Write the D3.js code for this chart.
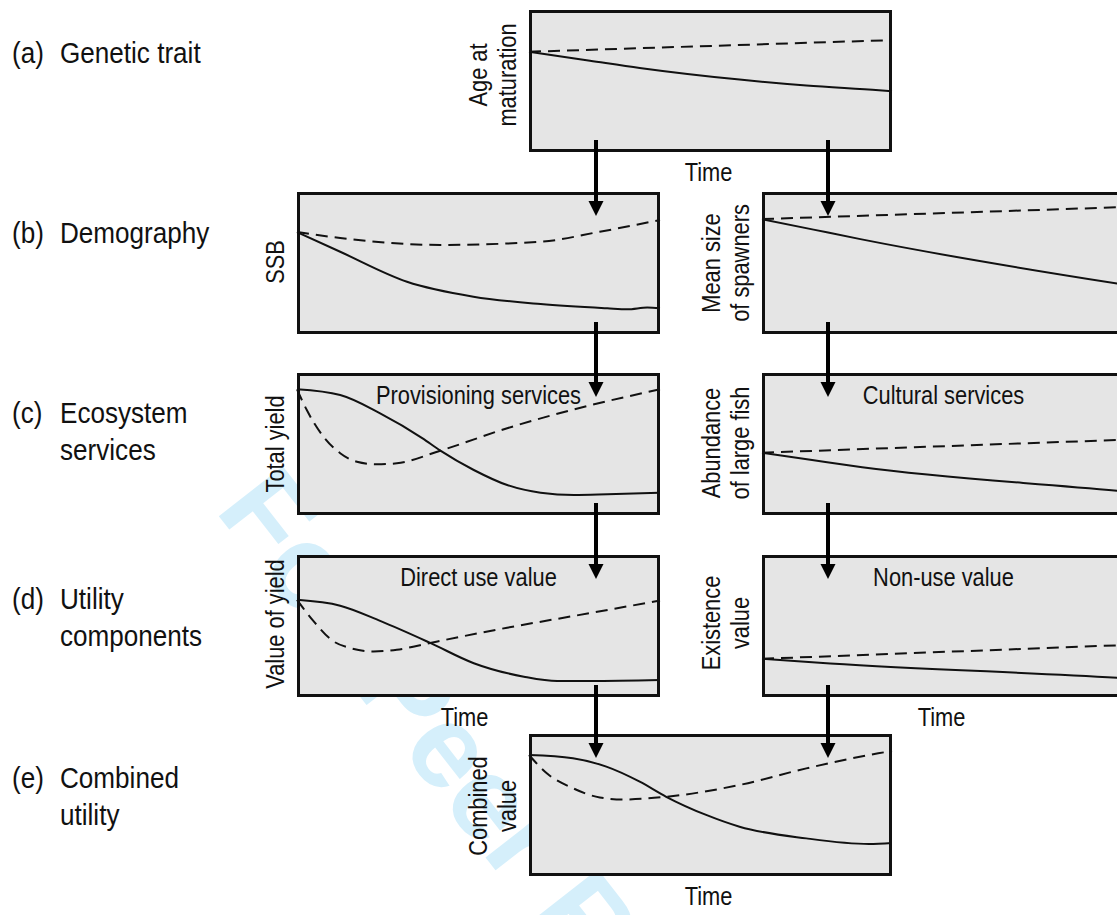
<!DOCTYPE html>
<html>
<head>
<meta charset="utf-8">
<script src="https://cdn.jsdelivr.net/npm/d3@7"></script>
<style>
    body { margin: 0; background: #fff; }
    svg { display: block; }
</style>
</head>
<body>
<svg id="fig" width="1117" height="915"></svg>
<script>
// row labels down the left side
const rowTags = ["(a)", "(b)", "(c)", "(d)", "(e)"];
const rowNames = [
    ["Genetic trait"],
    ["Demography"],
    ["Ecosystem", "services"],
    ["Utility", "components"],
    ["Combined", "utility"]
];

// curves: [time, value], both 0..1 of the panel box
const traitSolid  = [[0,0.706],[0.168,0.643],[0.305,0.592],[0.58,0.51],[0.764,0.468],[0.964,0.435],[1,0.428]];
const traitDashed = [[0,0.706],[1,0.788]];

const ssbSolid  = [[0,0.718],[0.119,0.579],[0.303,0.368],[0.486,0.263],[0.671,0.211],[0.855,0.181],[0.91,0.174],[0.965,0.186],[1,0.181]];
const ssbDashed = [[0,0.718],[0.119,0.676],[0.395,0.627],[0.671,0.65],[0.834,0.72],[1,0.803]];

const sizeSolid  = [[0,0.809],[0.142,0.735],[0.271,0.668],[0.98,0.355],[1,0.347]];
const sizeDashed = [[0,0.809],[1,0.894]];

const yieldSolid  = [[0,0.885],[0.119,0.845],[0.229,0.716],[0.346,0.54],[0.395,0.453],[0.487,0.317],[0.579,0.211],[0.671,0.157],[0.763,0.141],[0.855,0.146],[1,0.157]];
const yieldDashed = [[0,0.885],[0.027,0.739],[0.073,0.551],[0.119,0.435],[0.165,0.375],[0.22,0.357],[0.275,0.364],[0.395,0.453],[0.579,0.611],[0.763,0.744],[1,0.885]];

const largeSolid  = [[0,0.439],[0.138,0.387],[0.276,0.336],[0.98,0.17],[1,0.165]];
const largeDashed = [[0,0.439],[1,0.53]];

const valueSolid  = [[0,0.684],[0.119,0.643],[0.229,0.536],[0.367,0.381],[0.487,0.238],[0.625,0.143],[0.717,0.112],[0.809,0.112],[1,0.119]];
const valueDashed = [[0,0.684],[0.045,0.536],[0.1,0.393],[0.146,0.345],[0.211,0.321],[0.275,0.333],[0.367,0.381],[0.579,0.488],[0.763,0.571],[1,0.679]];

const existSolid  = [[0,0.269],[0.188,0.236],[0.98,0.136],[1,0.133]];
const existDashed = [[0,0.269],[1,0.366]];

const combSolid  = [[0,0.852],[0.121,0.829],[0.213,0.77],[0.305,0.664],[0.378,0.558],[0.488,0.43],[0.58,0.347],[0.764,0.265],[0.937,0.225],[1,0.232]];
const combDashed = [[0,0.852],[0.049,0.723],[0.122,0.617],[0.195,0.553],[0.259,0.539],[0.378,0.558],[0.58,0.641],[0.764,0.758],[0.962,0.864],[1,0.88]];

// layout
const colX = { left: 297, mid: 529, right: 762 };
const rowY = [10, 192, 373, 555, 734];
const pw = 363, ph = 142;
const arrowX = { left: 596, right: 828 };

const panels = [
    { col: "mid",   row: 0, ylab: ["Age at", "maturation"], dy: -6, time: -2, solid: traitSolid, dashed: traitDashed },
    { col: "left",  row: 1, ylab: ["SSB"], dy: -1, solid: ssbSolid, dashed: ssbDashed },
    { col: "right", row: 1, ylab: ["Mean size", "of spawners"], dy: 0, solid: sizeSolid, dashed: sizeDashed },
    { col: "left",  row: 2, ylab: ["Total yield"], dy: 0, title: "Provisioning services", solid: yieldSolid, dashed: yieldDashed },
    { col: "right", row: 2, ylab: ["Abundance", "of large fish"], dy: -1, title: "Cultural services", solid: largeSolid, dashed: largeDashed },
    { col: "left",  row: 3, ylab: ["Value of yield"], dy: -2, title: "Direct use value", time: -14, solid: valueSolid, dashed: valueDashed },
    { col: "right", row: 3, ylab: ["Existence", "value"], dy: -3, title: "Non-use value", time: -2, solid: existSolid, dashed: existDashed },
    { col: "mid",   row: 4, ylab: ["Combined", "value"], dy: 1, time: -2, solid: combSolid, dashed: combDashed }
];

const arrows = [
    { col: "left", from: 0, to: 1 }, { col: "right", from: 0, to: 1 },
    { col: "left", from: 1, to: 2 }, { col: "right", from: 1, to: 2 },
    { col: "left", from: 2, to: 3 }, { col: "right", from: 2, to: 3 },
    { col: "left", from: 3, to: 4 }, { col: "right", from: 3, to: 4 }
];

const svg = d3.select("#fig");
const font = "'Liberation Sans', Arial, Helvetica, sans-serif";

// narrow text: Liberation Sans squeezed along the baseline
function label(g, x, y, str, size, sx, rot, anchor) {
    let tr = "translate(" + x + "," + y + ")" + (rot ? " rotate(" + rot + ")" : "") + " scale(" + sx + ",1)";
    return g.append("text")
        .attr("transform", tr)
        .attr("text-anchor", anchor || "middle")
        .style("font-family", font)
        .style("font-size", size + "px")
        .attr("fill", "#111")
        .text(str);
}

// review watermark, behind everything
svg.append("text")
    .attr("transform", "translate(214,510) rotate(52)")
    .style("font-family", font)
    .style("font-size", "118px")
    .style("font-weight", "bold")
    .attr("fill", "#d5effb")
    .text("For Peer Review");

// row labels
let rows = svg.append("g").attr("id", "rows");
rowTags.forEach(function(tag, i) {
    let by = [63, 243, 423, 609, 788][i];
    label(rows, 12, by, tag, 29, 0.9, 0, "start");
    rowNames[i].forEach(function(s, j) {
        label(rows, 60, by + j * 37, s, 29, 0.9, 0, "start");
    });
});

let line = d3.line().curve(d3.curveMonotoneX);

panels.forEach(function(p) {
    let x0 = colX[p.col], y0 = rowY[p.row];
    let xScale = d3.scaleLinear().domain([0, 1]).range([x0, x0 + pw]);
    let yScale = d3.scaleLinear().domain([0, 1]).range([y0 + ph, y0]);
    let g = svg.append("g").attr("class", "panel");

    g.append("rect")
        .attr("x", x0 + 1.5).attr("y", y0 + 1.5)
        .attr("width", pw - 3).attr("height", ph - 3)
        .attr("fill", "#e5e5e5")
        .attr("stroke", "#111")
        .attr("stroke-width", 3);

    line.x(function(d) { return xScale(d[0]); })
        .y(function(d) { return yScale(d[1]); });

    g.append("path").datum(p.solid)
        .attr("d", line)
        .attr("fill", "none").attr("stroke", "#111").attr("stroke-width", 2);
    g.append("path").datum(p.dashed)
        .attr("d", line)
        .attr("fill", "none").attr("stroke", "#111").attr("stroke-width", 2)
        .attr("stroke-dasharray", "12,7");

    if (p.title) {
        label(g, x0 + pw / 2, y0 + 31, p.title, 26, 0.84);
    }
    if (p.time !== undefined) {
        label(g, x0 + pw / 2 + p.time, y0 + ph + 29, "Time", 26, 0.84);
    }

    // y label, rotated, one or two lines
    let cy = y0 + ph / 2 + p.dy;
    if (p.ylab.length === 1) {
        label(g, x0 - 13, cy, p.ylab[0], 26, 0.84, -90);
    } else {
        label(g, x0 - 42, cy, p.ylab[0], 26, 0.84, -90);
        label(g, x0 - 13, cy, p.ylab[1], 26, 0.84, -90);
    }
});

// flow arrows between rows
let ag = svg.append("g").attr("id", "arrows");
arrows.forEach(function(a) {
    let x = arrowX[a.col];
    let y1 = rowY[a.from] + ph - 12;
    let y2 = rowY[a.to] + 24;
    ag.append("line")
        .attr("x1", x).attr("x2", x)
        .attr("y1", y1).attr("y2", y2 - 12)
        .attr("stroke", "#000").attr("stroke-width", 4);
    ag.append("path")
        .attr("d", "M" + (x - 7.5) + "," + (y2 - 15) + "L" + (x + 7.5) + "," + (y2 - 15) + "L" + x + "," + y2 + "Z")
        .attr("fill", "#000");
});
</script>
</body>
</html>
